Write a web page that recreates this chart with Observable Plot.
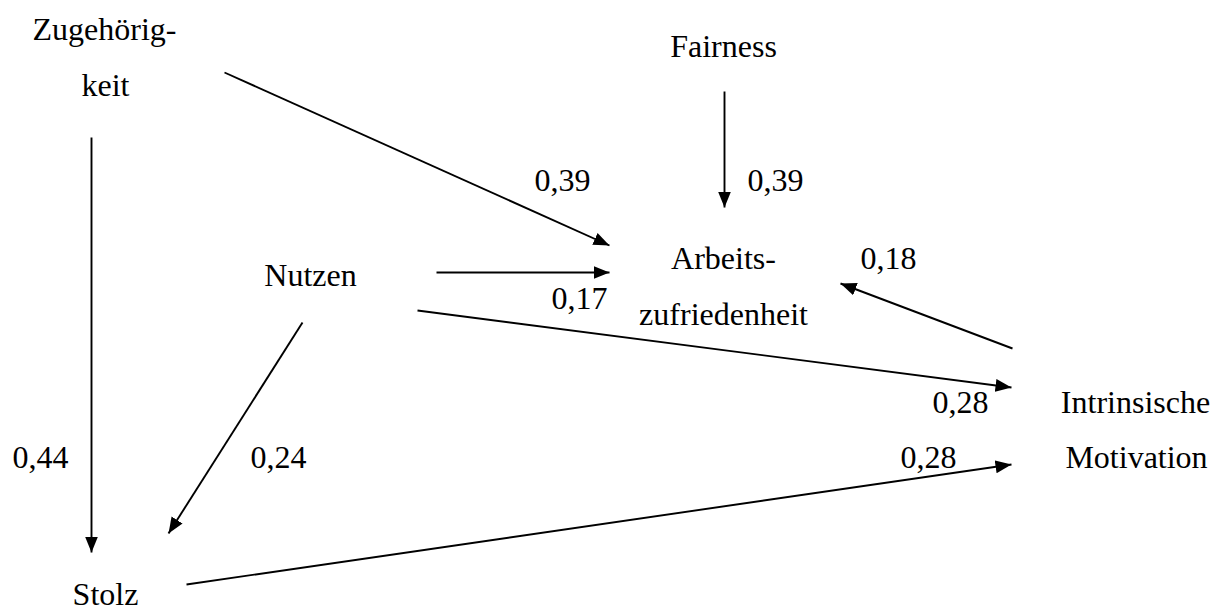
<!DOCTYPE html>
<html>
<head>
<meta charset="utf-8">
<script src="https://cdn.jsdelivr.net/npm/d3@7"></script>
<script src="https://cdn.jsdelivr.net/npm/@observablehq/plot@0.6"></script>
<style>
  html, body { margin: 0; padding: 0; background: #fff; }
  svg { display: block; }
  svg text { font-family: "Liberation Serif", "Times New Roman", serif !important; }
</style>
</head>
<body>
<div id="chart"></div>
<script>
// Node labels (one entry per text line), positioned in the diagram's coordinate space
const nodeLines = ["Zugehörig-", "keit", "Fairness", "Nutzen", "Arbeits-", "zufriedenheit", "Intrinsische", "Motivation", "Stolz"];
const nodeX = [104, 105, 723, 310, 723, 723, 1135, 1136, 105];
const nodeY = [39, 95, 56, 285, 268, 324, 412, 467, 604];

// Paths (arrows): start and end in the diagram's coordinate space
const pathNames = ["Zugehörigkeit→Arbeitszufriedenheit", "Fairness→Arbeitszufriedenheit", "Nutzen→Arbeitszufriedenheit",
  "Intrinsische Motivation→Arbeitszufriedenheit", "Nutzen→Intrinsische Motivation", "Nutzen→Stolz",
  "Zugehörigkeit→Stolz", "Stolz→Intrinsische Motivation"];
const pathX1 = [224, 724, 436, 1012, 417, 302, 91, 186];
const pathY1 = [72, 91, 272, 348, 310, 322, 137, 584];
const pathX2 = [609, 724, 609, 840, 1011, 168, 91, 1011];
const pathY2 = [245, 207, 272, 283, 387, 533, 552, 464];

// Path coefficients and where they are written
const coefficients = ["0,39", "0,39", "0,17", "0,18", "0,28", "0,28", "0,44", "0,24"];
const coefX = [534, 747, 551, 860, 932, 900, 12, 250];
const coefY = [190, 190, 308, 268, 412, 467, 467, 467];

const nodes = nodeLines.map((t, i) => ({text: t, x: nodeX[i], y: nodeY[i]}));
const paths = pathNames.map((n, i) => ({name: n, x1: pathX1[i], y1: pathY1[i], x2: pathX2[i], y2: pathY2[i]}));
const coefs = coefficients.map((t, i) => ({text: t, x: coefX[i], y: coefY[i]}));

function filledArrow(color, context) {
  const m = d3.create("svg:marker")
    .attr("viewBox", "-16 -7 16 14")
    .attr("markerWidth", 16)
    .attr("markerHeight", 14)
    .attr("markerUnits", "userSpaceOnUse")
    .attr("refX", 0)
    .attr("refY", 0)
    .attr("orient", "auto")
    .attr("fill", color)
    .attr("stroke", "none");
  m.append("path").attr("d", "M-16,-6.5L0,0L-16,6.5Z");
  return m.node();
}

const font = "Liberation Serif";

const chart = Plot.plot({
  width: 1221,
  height: 610,
  margin: 0,
  x: {domain: [0, 1221], range: [0, 1221], axis: null},
  y: {domain: [0, 610], range: [0, 610], axis: null},
  style: {background: "white", color: "black", fontFamily: font},
  marks: [
    Plot.link(paths, {x1: "x1", y1: "y1", x2: "x2", y2: "y2", stroke: "black", strokeWidth: 1.9, markerEnd: filledArrow}),
    Plot.text(nodes, {x: "x", y: "y", text: "text", textAnchor: "middle", lineAnchor: "bottom", fontFamily: font, fontSize: 32, fill: "black"}),
    Plot.text(coefs, {x: "x", y: "y", text: "text", textAnchor: "start", lineAnchor: "bottom", fontFamily: font, fontSize: 32, fill: "black"})
  ]
});
document.getElementById("chart").appendChild(chart);
</script>
</body>
</html>
